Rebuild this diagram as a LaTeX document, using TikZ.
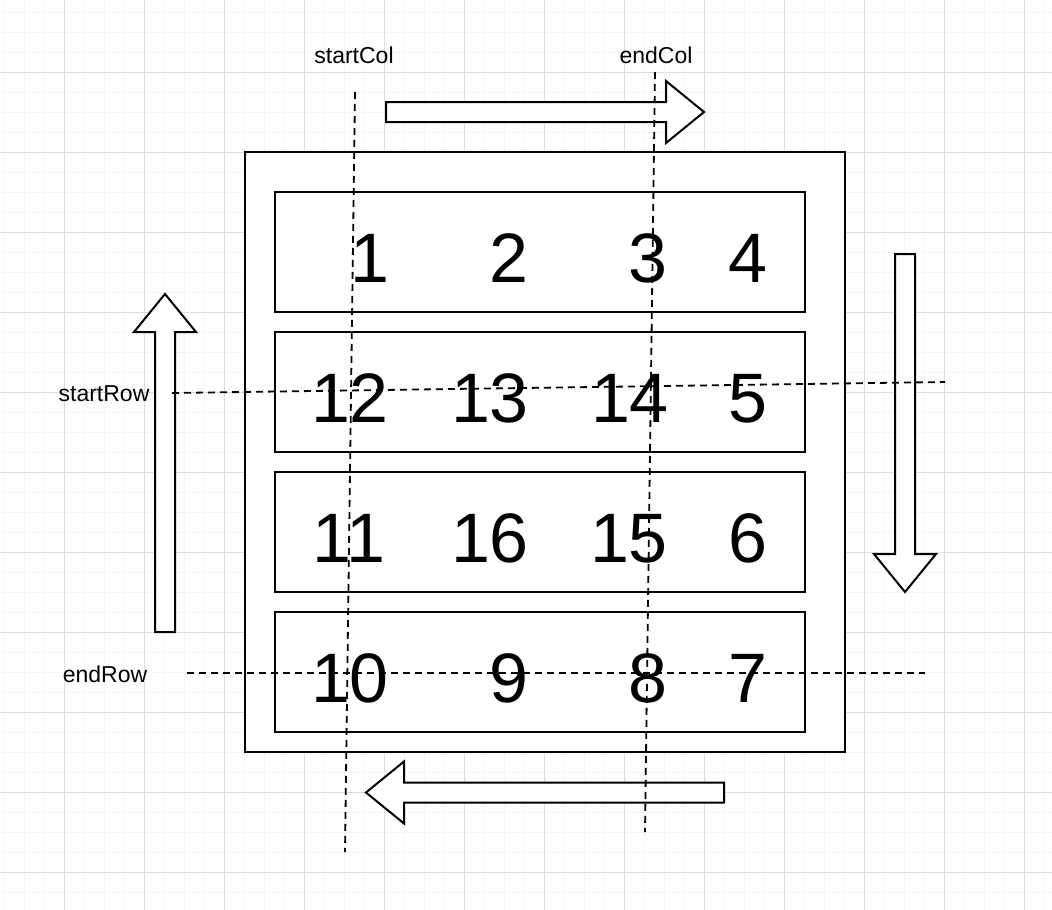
\documentclass[tikz,border=0pt]{standalone}
\usepackage{fontspec}
\setmainfont{Liberation Sans}
\definecolor{gridminor}{HTML}{F5F5F5}
\definecolor{gridmajor}{HTML}{DDDDDD}
\tikzset{
  minorline/.style={gridminor, line width=1pt},
  majorline/.style={gridmajor, line width=1pt},
  box/.style={draw, line width=2pt, fill=white, inner sep=0pt},
  num/.style={anchor=base, inner sep=0pt, font=\fontsize{70}{84}\selectfont},
  lbl/.style={anchor=base, inner sep=0pt, font=\fontsize{23}{28}\selectfont},
  guide/.style={line width=1.8pt, dash pattern=on 7pt off 5pt},
  bigarrow/.style={draw, line width=2pt, fill=white, line join=miter}
}
% hollow block arrow: tail x, tail y, length, angle
\newcommand{\blockarrow}[4]{
  \draw[bigarrow, shift={(#1,#2)}, rotate=#4]
    (0,-10) -- (#3-38,-10) -- (#3-38,-31) -- (#3,0)
    -- (#3-38,31) -- (#3-38,10) -- (0,10) -- cycle;
}

\begin{document}
\begin{tikzpicture}[x=1pt, y=-1pt]
            \useasboundingbox (0,0) rectangle (1052,910);
            \fill[white] (0,0) rectangle (1052,910);
            \foreach \x in {4,24,...,1044} \draw[minorline] (\x,0) -- (\x,910);
            \foreach \y in {12,32,...,900} \draw[minorline] (0,\y) -- (1052,\y);
            \foreach \x in {64,144,...,1044} \draw[majorline] (\x,0) -- (\x,910);
            \foreach \y in {72,152,...,900} \draw[majorline] (0,\y) -- (1052,\y);

            \node[box, minimum width=600pt, minimum height=600pt] (board) at (545,452) {};
            \node[box, minimum width=530pt, minimum height=120pt] (row1) at (540,252) {};
            \node[box, minimum width=530pt, minimum height=120pt] (row2) at (540,392) {};
            \node[box, minimum width=530pt, minimum height=120pt] (row3) at (540,532) {};
            \node[box, minimum width=530pt, minimum height=120pt] (row4) at (540,672) {};

            \node[num] (n1) at (370,282) {1};
            \node[num] (n2) at (509,282) {2};
            \node[num] (n3) at (648,282) {3};
            \node[num] (n4) at (748,282) {4};
            \node[num] (n12) at (350,422) {12};
            \node[num] (n13) at (490,422) {13};
            \node[num] (n14) at (630,422) {14};
            \node[num] (n5) at (748,422) {5};
            \node[num] (n11) at (349,562) {11};
            \node[num] (n16) at (490,562) {16};
            \node[num] (n15) at (629,562) {15};
            \node[num] (n6) at (748,562) {6};
            \node[num] (n10) at (350,702) {10};
            \node[num] (n9) at (509,702) {9};
            \node[num] (n8) at (648,702) {8};
            \node[num] (n7) at (748,702) {7};

            \blockarrow{386}{112}{318}{0}
            \blockarrow{905}{254}{338}{-90}
            \blockarrow{724}{792.5}{358}{180}
            \blockarrow{165}{632}{338}{90}

            \coordinate (scTop) at (355,92);
            \coordinate (scBot) at (345,852);
            \coordinate (ecTop) at (655,72);
            \coordinate (ecBot) at (645,832);
            \coordinate (srLeft) at (172,393);
            \coordinate (srRight) at (945,382);
            \coordinate (erLeft) at (187,673);
            \coordinate (erRight) at (925,673);
            \draw[guide] (scTop) -- (scBot);
            \draw[guide] (ecTop) -- (ecBot);
            \draw[guide] (srLeft) -- (srRight);
            \draw[guide] (erLeft) -- (erRight);

            \node[lbl] (startCol) at (354,63) {startCol};
            \node[lbl] (endCol) at (656,63) {endCol};
            \node[lbl] (startRow) at (104,401) {startRow};
            \node[lbl] (endRow) at (105,682) {endRow};
\end{tikzpicture}
\end{document}
